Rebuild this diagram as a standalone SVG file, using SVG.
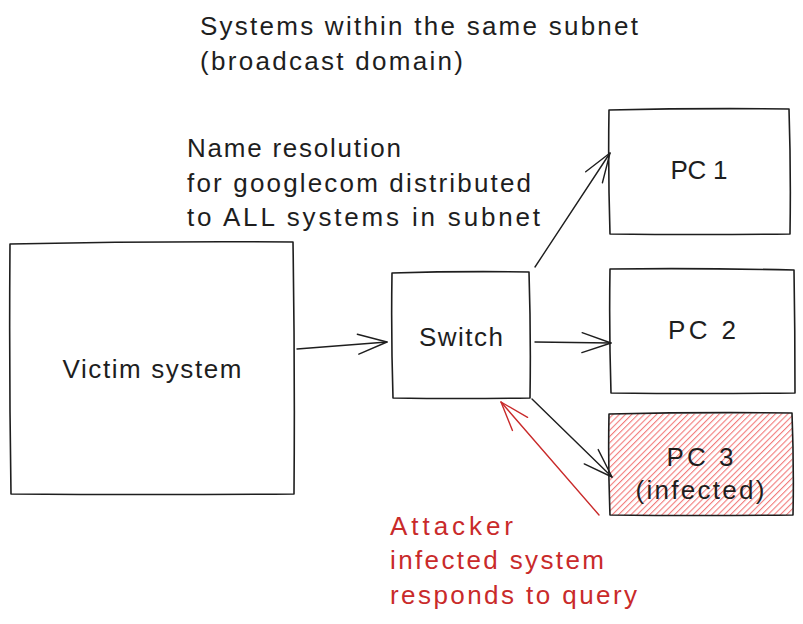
<svg xmlns="http://www.w3.org/2000/svg" width="803" height="624" viewBox="0 0 803 624">
<style>
.box{fill:none;stroke:#1e1e1e;stroke-width:1.6;stroke-linecap:round;stroke-linejoin:round}
.ln{fill:none;stroke:#1e1e1e;stroke-width:1.4;stroke-linecap:round}
.red{stroke:#c92a2a}
.t{font-family:"Liberation Sans",Arial,sans-serif;font-size:26px;fill:#1e1e1e}
.tr{fill:#c92a2a}
.c{text-anchor:middle}
</style>
<defs>
<pattern id="hatch" patternUnits="userSpaceOnUse" width="4.4" height="20" patternTransform="rotate(45)">
<rect x="0" y="0" width="1.1" height="20" fill="#f27b7b"/>
</pattern>
<marker id="ah" markerUnits="userSpaceOnUse" markerWidth="40" markerHeight="40" refX="0" refY="0" viewBox="-35 -20 40 40" orient="auto" overflow="visible">
<path d="M-29,-10 L0,0 L-29,10" fill="none" stroke="#1e1e1e" stroke-width="1.4" stroke-linecap="round" stroke-linejoin="round"/>
</marker>
<marker id="ahr" markerUnits="userSpaceOnUse" markerWidth="40" markerHeight="40" refX="0" refY="0" viewBox="-35 -20 40 40" orient="auto" overflow="visible">
<path d="M-29,-10 L0,0 L-29,10" fill="none" stroke="#c92a2a" stroke-width="1.4" stroke-linecap="round" stroke-linejoin="round"/>
</marker>
</defs>
<rect width="803" height="624" fill="#ffffff"/>

<g id="title">
<text class="t" x="200" y="35" textLength="438" lengthAdjust="spacing">Systems within the same subnet</text>
<text class="t" x="200" y="70" textLength="263" lengthAdjust="spacing">(broadcast domain)</text>
</g>

<g id="note">
<text class="t" x="187" y="157" textLength="214" lengthAdjust="spacing">Name resolution</text>
<text class="t" x="187" y="192" textLength="344" lengthAdjust="spacing">for googlecom distributed</text>
<text class="t" x="187" y="226" textLength="353" lengthAdjust="spacing">to ALL systems in subnet</text>
</g>

<g id="victim">
<path class="box" d="M10,244 Q150,241 293,242 Q295,370 294,494 Q150,495 11,494 Q9,370 10,244 Z"/>
<text class="t c" x="152" y="378" textLength="179" lengthAdjust="spacing">Victim system</text>
</g>

<g id="switch">
<path class="box" d="M392,273 Q460,271 529,272 Q531,335 530,398 Q460,399 393,398 Q391,335 392,273 Z"/>
<text class="t c" x="461" y="346" textLength="84" lengthAdjust="spacing">Switch</text>
</g>

<g id="pc1">
<path class="box" d="M609,110 Q700,108 789,109 Q791,170 790,234 Q700,235 610,234 Q608,170 609,110 Z"/>
<text class="t c" x="699" y="179" textLength="57" lengthAdjust="spacing">PC 1</text>
</g>

<g id="pc2">
<path class="box" d="M610,269 Q702,268 794,270 Q795,330 795,393 Q702,394 611,393 Q609,330 610,269 Z"/>
<text class="t c" x="702" y="339" textLength="68" lengthAdjust="spacing">PC 2</text>
</g>

<g id="pc3">
<path d="M609,414 L792,413 L793,515 L610,515 Z" fill="url(#hatch)"/>
<path class="box" d="M609,414 Q700,412 792,413 Q794,465 793,515 Q700,516 610,515 Q608,465 609,414 Z"/>
<text class="t c" x="700" y="466" textLength="67" lengthAdjust="spacing">PC 3</text>
<text class="t c" x="700" y="499" textLength="129" lengthAdjust="spacing">(infected)</text>
</g>

<g id="attacker-note">
<text class="t tr" x="390" y="535" textLength="123" lengthAdjust="spacing">Attacker</text>
<text class="t tr" x="390" y="569" textLength="214" lengthAdjust="spacing">infected system</text>
<text class="t tr" x="390" y="604" textLength="247" lengthAdjust="spacing">responds to query</text>
</g>

<g id="connectors">
<path class="ln" d="M297,349 L387,342" marker-end="url(#ah)"/>
<path class="ln" d="M535,267 L610,153" marker-end="url(#ah)"/>
<path class="ln" d="M535,342 L611,343" marker-end="url(#ah)"/>
<path class="ln" d="M532,399 L612,477" marker-end="url(#ah)"/>
<path class="ln red" d="M599,515 L501,402" marker-end="url(#ahr)"/>
</g>
</svg>
